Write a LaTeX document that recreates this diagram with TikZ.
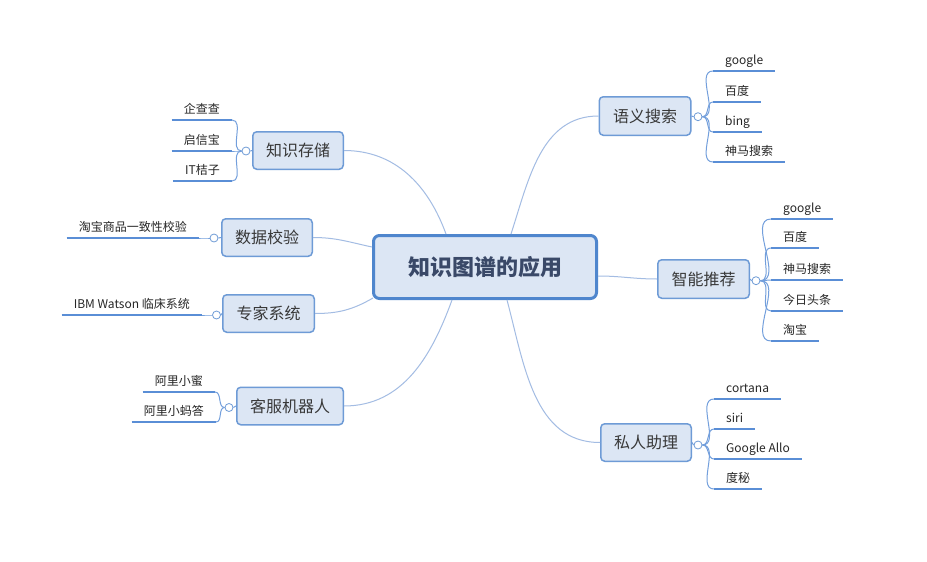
\documentclass[tikz,border=0pt]{standalone}
\usepackage{fontspec}
\setmainfont{Noto Sans CJK SC}
\usetikzlibrary{calc}
\definecolor{nodefill}{HTML}{DCE6F4}
\definecolor{mainborder}{HTML}{4F86CD}
\definecolor{branchborder}{HTML}{6E9BD6}
\definecolor{conn}{HTML}{A3BCE3}
\definecolor{uline}{HTML}{5A8ED6}
\definecolor{maintext}{HTML}{3A4968}
\begin{document}
\begin{tikzpicture}[x=1pt,y=1pt,
  mainnode/.style={draw=mainborder, line width=3pt, fill=nodefill, rounded corners=6pt,
    minimum width=223pt, minimum height=63pt, inner sep=0pt,
    font=\fontsize{22}{26}\selectfont\bfseries, text=maintext},
  branch/.style={draw=branchborder, line width=1.5pt, fill=nodefill, rounded corners=4pt,
    minimum height=37.5pt, inner sep=0pt, font=\fontsize{16}{19}\selectfont, text=black!78},
  leaf/.style={inner xsep=12pt, inner ysep=0pt, text height=11pt, text depth=6.5pt,
    font=\fontsize{12}{14}\selectfont, text=black!85},
  ul/.style={draw=uline, line width=2.6pt},
  brk/.style={draw=uline!85, line width=1pt},
  circ/.style={circle, draw=branchborder, line width=0.8pt, fill=white, inner sep=0pt, minimum size=8pt},
  conn/.style={draw=conn, line width=1pt}
]
\useasboundingbox[fill=white] (0,0) rectangle (927,-562);

% central node
\node[mainnode] (c) at (485,-267) {知识图谱的应用};

% branch nodes
\node[branch, minimum width=90.5pt] (b1) at (298,-150.5) {知识存储};
\node[branch, minimum width=90.5pt] (b2) at (267,-237.5) {数据校验};
\node[branch, minimum width=91.5pt] (b3) at (268.5,-313.5) {专家系统};
\node[branch, minimum width=106.5pt] (b4) at (290,-406) {客服机器人};
\node[branch, minimum width=91.5pt, minimum height=38.5pt] (b5) at (645,-116) {语义搜索};
\node[branch, minimum width=91.5pt, minimum height=38.5pt] (b6) at (703.5,-279) {智能推荐};
\node[branch, minimum width=90.5pt] (b7) at (646,-442.5) {私人助理};

% attach points on central node
\coordinate (c1) at ($(c.north)+(-39,0)$);
\coordinate (c2) at ($(c.west)+(0,20)$);
\coordinate (c3) at ($(c.south west)+(1,2)$);
\coordinate (c4) at ($(c.south)+(-33,0)$);
\coordinate (c5) at ($(c.north)+(26,0)$);
\coordinate (c6) at ($(c.east)+(0,-9)$);
\coordinate (c7) at ($(c.south)+(22,0)$);

% main connectors
\draw[conn] (b1.east) to[out=0,in=110] (c1);
\draw[conn] (b2.east) to[out=0,in=168] (c2);
\draw[conn] (b3.east) to[out=0,in=210] (c3);
\draw[conn] (b4.east) to[out=0,in=250] (c4);
\draw[conn] (c5) to[out=72,in=180] (b5.west);
\draw[conn] (c6) to[out=0,in=180] (b6.west);
\draw[conn] (c7) to[out=-75,in=180] (b7.west);

% collapse circles
\node[circ] (k1) at (246,-151) {};
\node[circ] (k2) at (214,-238) {};
\node[circ] (k3) at (216.5,-315) {};
\node[circ] (k4) at (229,-407.5) {};
\node[circ] (k5) at (698,-116.7) {};
\node[circ] (k6) at (756,-280.7) {};
\node[circ] (k7) at (698,-445) {};
\draw[brk] (b1.west) -- (k1.east);
\draw[brk] (b2.west) -- (k2.east);
\draw[brk] (b3.west) -- (k3.east);
\draw[brk] (b4.west) -- (k4.east);
\draw[brk] (b5.east) -- (k5.west);
\draw[brk] (b6.east) -- (k6.west);
\draw[brk] (b7.east) -- (k7.west);

% left leaves
\node[leaf, anchor=south east] (l11) at (232,-120) {企查查};
\node[leaf, anchor=south east] (l12) at (232,-151) {启信宝};
\node[leaf, anchor=south east] (l13) at (232,-181) {IT桔子};
\node[leaf, anchor=south east] (l21) at (199,-238) {淘宝商品一致性校验};
\node[leaf, anchor=south east] (l31) at (202,-315) {IBM Watson 临床系统};
\node[leaf, anchor=south east] (l41) at (215,-392) {阿里小蜜};
\node[leaf, anchor=south east] (l42) at (216,-422) {阿里小蚂答};
\foreach \l/\k in {l11/k1,l12/k1,l13/k1,l21/k2,l31/k3,l41/k4,l42/k4}{
  \draw[ul] (\l.south west) -- (\l.south east);
  \draw[brk] (\k.west) to[out=180,in=0] (\l.south east);
}

% right leaves
\node[leaf, anchor=south west] (r51) at (713,-71) {google};
\node[leaf, anchor=south west] (r52) at (713,-102) {百度};
\node[leaf, anchor=south west] (r53) at (713,-132) {bing};
\node[leaf, anchor=south west] (r54) at (713,-162) {神马搜索};
\node[leaf, anchor=south west] (r61) at (771,-219) {google};
\node[leaf, anchor=south west] (r62) at (771,-248) {百度};
\node[leaf, anchor=south west] (r63) at (771,-280) {神马搜索};
\node[leaf, anchor=south west] (r64) at (771,-311) {今日头条};
\node[leaf, anchor=south west] (r65) at (771,-341) {淘宝};
\node[leaf, anchor=south west] (r71) at (714,-399) {cortana};
\node[leaf, anchor=south west] (r72) at (714,-429) {siri};
\node[leaf, anchor=south west] (r73) at (714,-459) {Google Allo};
\node[leaf, anchor=south west] (r74) at (714,-489) {度秘};
\foreach \l/\k in {r51/k5,r52/k5,r53/k5,r54/k5,r61/k6,r62/k6,r63/k6,r64/k6,r65/k6,r71/k7,r72/k7,r73/k7,r74/k7}{
  \draw[ul] (\l.south west) -- (\l.south east);
  \draw[brk] (\k.east) to[out=0,in=180] (\l.south west);
}
\end{tikzpicture}
\end{document}
